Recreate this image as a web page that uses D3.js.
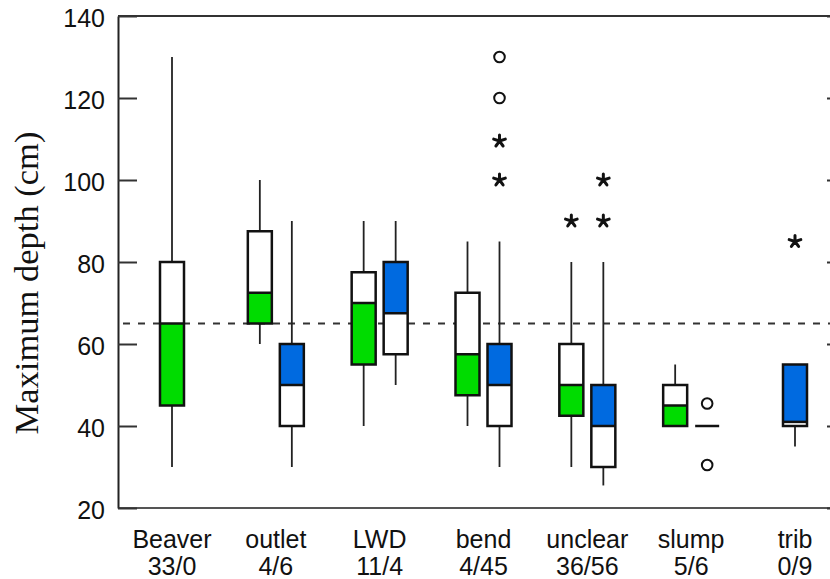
<!DOCTYPE html>
<html>
<head>
<meta charset="utf-8">
<script src="https://cdn.jsdelivr.net/npm/d3@7"></script>
<style>
  body { margin: 0; background: #fff; }
  svg { display: block; }
</style>
</head>
<body>
<div id="plot"></div>
<script>
// categories and sample counts (green/blue)
const categories = ["Beaver", "outlet", "LWD", "bend", "unclear", "slump", "trib"];
const counts = ["33/0", "4/6", "11/4", "4/45", "36/56", "5/6", "0/9"];

// [whisker low, q1, median, q3, whisker high]; null = no data
const greenStats = [
    [30, 45, 65, 80, 130],
    [60, 65, 72.5, 87.5, 100],
    [40, 55, 70, 77.5, 90],
    [40, 47.5, 57.5, 72.5, 85],
    [30, 42.5, 50, 60, 80],
    [40, 40, 45, 50, 55],
    null
];
const blueStats = [
    null,
    [30, 40, 50, 60, 90],
    [50, 57.5, 67.5, 80, 90],
    [30, 40, 50, 60, 85],
    [25.5, 30, 40, 50, 80],
    [40, 40, 40, 40, 40],
    [35, 40, 41, 55, 55]
];

// outliers: [category, series, value]
const starPoints = [
    ["unclear", "green", 90],
    ["bend", "blue", 109.5],
    ["bend", "blue", 100],
    ["unclear", "blue", 100],
    ["unclear", "blue", 90],
    ["trib", "blue", 85]
];
const circlePoints = [
    ["bend", "blue", 130],
    ["bend", "blue", 120],
    ["slump", "blue", 45.5],
    ["slump", "blue", 30.5]
];

const yTicks = [20, 40, 60, 80, 100, 120, 140];
const refLine = 65;

const width = 830, height = 579;
const plot = { left: 118, right: 846, top: 16, bottom: 508 };
const boxW = 24, pairOffset = 16;
const colors = { green: "#00dc00", blue: "#006ae0" };

const svg = d3.select("#plot").append("svg")
    .attr("width", width)
    .attr("height", height);

const y = d3.scaleLinear().domain([20, 140]).range([plot.bottom, plot.top]);
const x = d3.scalePoint().domain(categories).range([172, 795]);

function boxX(cat, series) {
    const i = categories.indexOf(cat);
    const both = greenStats[i] && blueStats[i];
    if (!both) return x(cat);
    return x(cat) + (series === "green" ? -pairOffset : pairOffset);
}

// frame
svg.append("line")
    .attr("x1", plot.left).attr("x2", width)
    .attr("y1", plot.top).attr("y2", plot.top)
    .attr("stroke", "#333").attr("stroke-width", 2);
svg.append("line")
    .attr("x1", plot.left).attr("x2", width)
    .attr("y1", plot.bottom).attr("y2", plot.bottom)
    .attr("stroke", "#555").attr("stroke-width", 2);

const yAxis = svg.append("g")
    .attr("transform", `translate(${plot.left},0)`)
    .call(d3.axisLeft(y).tickValues(yTicks).tickSize(-19).tickSizeOuter(0).tickPadding(13));
yAxis.select(".domain").attr("stroke", "#222").attr("stroke-width", 2);
yAxis.selectAll(".tick line").attr("stroke", "#333").attr("stroke-width", 2);
yAxis.selectAll(".tick text")
    .attr("dy", "0.42em")
    .style("font-family", "Arial, 'Liberation Sans', sans-serif")
    .style("font-size", "25px")
    .attr("fill", "#111");

const yAxisR = svg.append("g")
    .attr("transform", `translate(${plot.right},0)`)
    .call(d3.axisRight(y).tickValues(yTicks).tickSize(-19).tickSizeOuter(0).tickFormat(""));
yAxisR.select(".domain").attr("stroke", "#222").attr("stroke-width", 2);
yAxisR.selectAll(".tick line").attr("stroke", "#333").attr("stroke-width", 2);

// y title
svg.append("text")
    .attr("transform", `translate(38,${(plot.top + plot.bottom) / 2 + 21}) rotate(-90)`)
    .attr("text-anchor", "middle")
    .style("font-family", "'Times New Roman', 'Liberation Serif', serif")
    .style("font-size", "34.5px")
    .attr("fill", "#111")
    .text("Maximum depth (cm)");

// reference line
svg.append("line")
    .attr("x1", 123).attr("x2", width)
    .attr("y1", y(refLine)).attr("y2", y(refLine))
    .attr("stroke", "#333").attr("stroke-width", 1.8)
    .attr("stroke-dasharray", "7,8");

// boxes
const boxes = [];
categories.forEach((c, i) => {
    if (greenStats[i]) boxes.push({ cat: c, series: "green", s: greenStats[i] });
    if (blueStats[i]) boxes.push({ cat: c, series: "blue", s: blueStats[i] });
});

const g = svg.append("g").selectAll("g")
    .data(boxes)
    .join("g")
    .attr("transform", d => `translate(${boxX(d.cat, d.series)},0)`);

g.append("line")
    .attr("y1", d => y(d.s[0])).attr("y2", d => y(d.s[4]))
    .attr("stroke", "#222").attr("stroke-width", 1.8);

g.append("rect")
    .attr("x", -boxW / 2).attr("width", boxW)
    .attr("y", d => y(d.s[3])).attr("height", d => y(d.s[1]) - y(d.s[3]))
    .attr("fill", "#fff");

g.append("rect")
    .attr("x", -boxW / 2).attr("width", boxW)
    .attr("y", d => d.series === "green" ? y(d.s[2]) : y(d.s[3]))
    .attr("height", d => d.series === "green" ? y(d.s[1]) - y(d.s[2]) : y(d.s[2]) - y(d.s[3]))
    .attr("fill", d => colors[d.series]);

g.append("line")
    .attr("x1", -boxW / 2).attr("x2", boxW / 2)
    .attr("y1", d => y(d.s[2])).attr("y2", d => y(d.s[2]))
    .attr("stroke", "#111").attr("stroke-width", 2.5);

g.append("rect")
    .attr("x", -boxW / 2).attr("width", boxW)
    .attr("y", d => y(d.s[3])).attr("height", d => y(d.s[1]) - y(d.s[3]))
    .attr("fill", "none")
    .attr("stroke", "#111").attr("stroke-width", 2.5);

// outliers
const star5 = {
    draw(ctx, size) {
        const r = Math.sqrt(size) / 2;
        for (let k = 0; k < 5; k++) {
            const a = -Math.PI / 2 + k * 2 * Math.PI / 5;
            ctx.moveTo(0, 0);
            ctx.lineTo(r * Math.cos(a), r * Math.sin(a));
        }
    }
};

svg.append("g").selectAll("path")
    .data(starPoints)
    .join("path")
    .attr("transform", d => `translate(${boxX(d[0], d[1])},${y(d[2])})`)
    .attr("d", d3.symbol().type(star5).size(150))
    .attr("fill", "none")
    .attr("stroke", "#111")
    .attr("stroke-width", 3)
    .attr("stroke-linecap", "round");

svg.append("g").selectAll("circle")
    .data(circlePoints)
    .join("circle")
    .attr("cx", d => boxX(d[0], d[1]))
    .attr("cy", d => y(d[2]))
    .attr("r", 5.3)
    .attr("fill", "none")
    .attr("stroke", "#111")
    .attr("stroke-width", 2);

// category labels
const labels = svg.append("g").selectAll("text")
    .data(categories)
    .join("text")
    .attr("text-anchor", "middle")
    .style("font-family", "Arial, 'Liberation Sans', sans-serif")
    .style("font-size", "25px")
    .attr("fill", "#111");
labels.append("tspan")
    .attr("x", d => x(d)).attr("y", 548)
    .text(d => d);
labels.append("tspan")
    .attr("x", d => x(d)).attr("y", 575)
    .text((d, i) => counts[i]);
</script>
</body>
</html>
